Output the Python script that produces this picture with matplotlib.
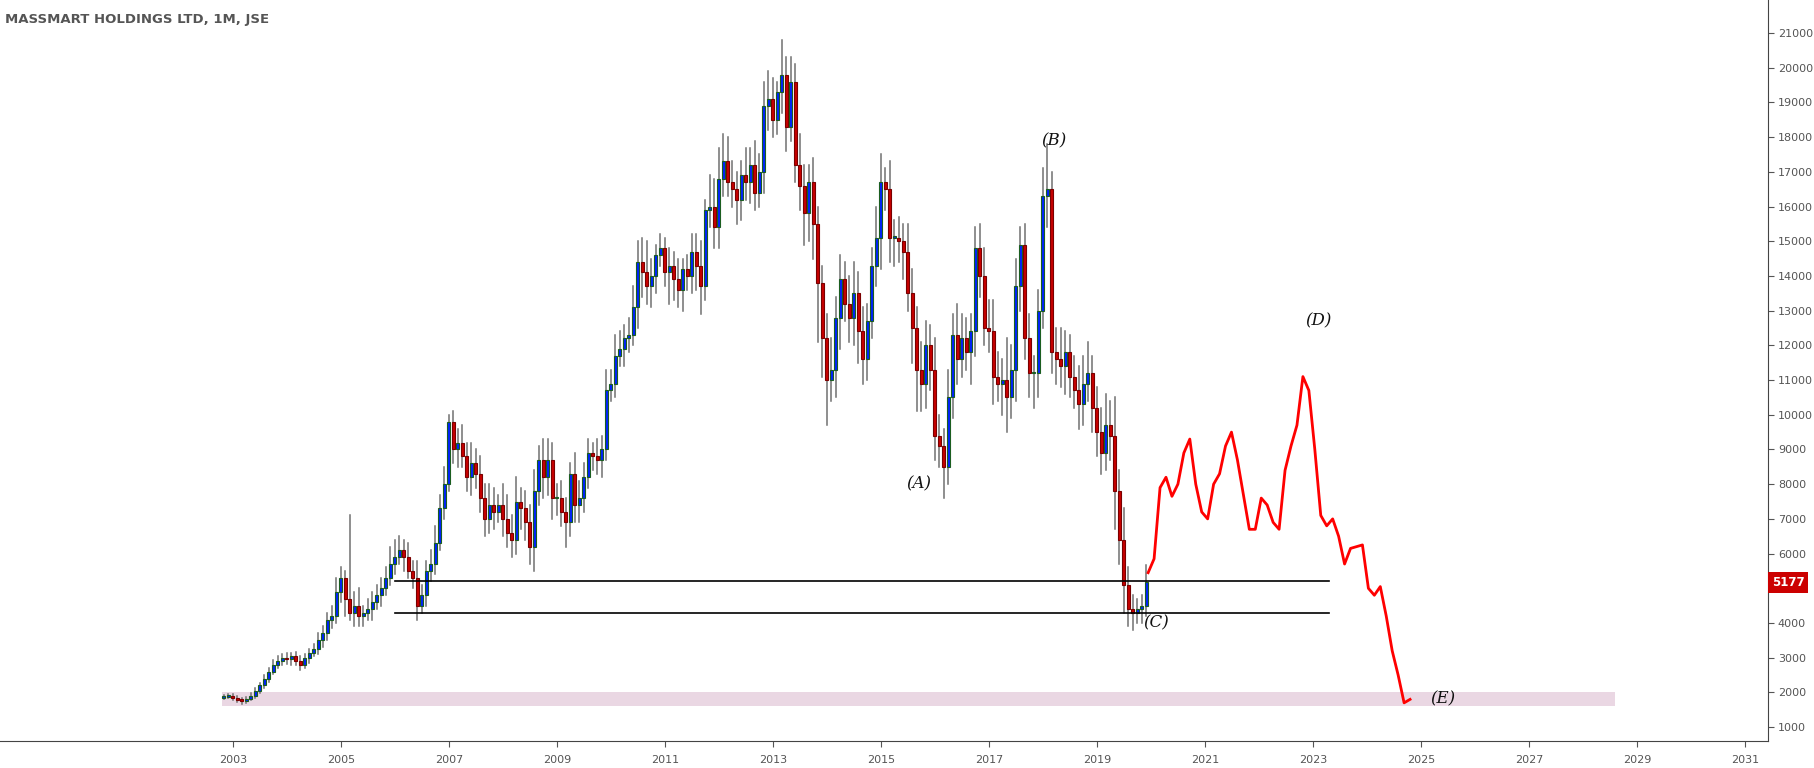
import numpy as np
import matplotlib
matplotlib.use('Agg')
import matplotlib.pyplot as plt
from matplotlib.patches import Rectangle

# monthly closes, Nov 2002 .. Dec 2019
closes = [
    1880, 1900,
    1850, 1780, 1760, 1820, 1900, 2050, 2200, 2400, 2600, 2800, 2900, 3000,
    2950, 3050, 2900, 2800, 3000, 3150, 3250, 3500, 3700, 4100, 4200, 4900,
    5300, 4700, 4300, 4500, 4200, 4300, 4400, 4600, 4800, 5000, 5300, 5700,
    5900, 6100, 5900, 5500, 5300, 4500, 4800, 5500, 5700, 6300, 7300, 8000,
    9800, 9000, 9200, 8800, 8200, 8600, 8300, 7600, 7000, 7400, 7200, 7400,
    7000, 6600, 6400, 7500, 7300, 6900, 6200, 7800, 8700, 8200, 8700, 7600,
    7600, 7200, 6900, 8300, 7400, 7600, 8200, 8900, 8800, 8700, 9000, 10700,
    10900, 11700, 11900, 12200, 12300, 13100, 14400, 14100, 13700, 14000, 14600, 14800,
    14100, 14300, 13900, 13600, 14200, 14000, 14700, 14300, 13700, 15900, 16000, 15400,
    16800, 17300, 16700, 16500, 16200, 16900, 16700, 17200, 16400, 17000, 18900, 19100,
    18500, 19300, 19800, 18300, 19600, 17200, 16600, 15800, 16700, 15500, 13800, 12200,
    11000, 11300, 12800, 13900, 13200, 12800, 13500, 12400, 11600, 12700, 14300, 15100,
    16700, 16500, 15100, 15100, 15000, 14700, 13500, 12500, 11300, 10900, 12000, 11300,
    9400, 9100, 8500, 10500, 12300, 11600, 12200, 11800, 12400, 14800, 14000, 12500,
    12400, 11100, 10900, 11000, 10500, 11300, 13700, 14900, 12200, 11200, 11200, 13000,
    16300, 16500, 11800, 11600, 11400, 11800, 11100, 10700, 10300, 10900, 11200, 10200,
    9500, 8900, 9700, 9400, 7800, 6400, 5100, 4400, 4300, 4400, 4500, 5177,
]
# wick extension above max(open, close) and below min(open, close)
wick_up = [
    50, 50,
    60, 50, 50, 60, 80, 90, 80, 100, 100, 120, 150, 100,
    150, 100, 120, 150, 100, 100, 150, 200, 200, 200, 300, 400,
    300, 200, 2400, 400, 500, 200, 300, 300, 300, 300, 300, 500,
    500, 400, 300, 400, 300, 500, 300, 300, 400, 500, 400, 500,
    200, 300, 400, 500, 400, 600, 400, 500, 400, 600, 500, 300,
    600, 700, 500, 700, 400, 500, 500, 600, 400, 600, 600, 500,
    400, 500, 400, 300, 600, 500, 400, 400, 300, 500, 400, 600,
    400, 600, 500, 400, 500, 600, 600, 700, 900, 500, 300, 400,
    300, 500, 400, 600, 300, 400, 500, 500, 700, 300, 900, 800,
    900, 800, 700, 600, 500, 400, 800, 500, 700, 500, 700, 800,
    600, 300, 1000, 500, 700, 500, 900, 600, 500, 700, 500, 500,
    700, 900, 600, 700, 500, 800, 900, 600, 700, 500, 500, 900,
    800, 400, 800, 500, 600, 500, 800, 700, 600, 800, 700, 600,
    900, 600, 500, 800, 600, 900, 700, 600, 500, 600, 700, 800,
    800, 900, 700, 600, 1200, 700, 800, 500, 600, 700, 500, 600,
    800, 1300, 500, 700, 900, 600, 500, 600, 700, 800, 900, 500,
    600, 700, 900, 700, 1100, 600, 900, 500, 400, 300, 300, 500,
]
wick_dn = [
    50, 50,
    60, 50, 80, 60, 50, 60, 80, 60, 100, 80, 100, 100,
    120, 150, 100, 150, 100, 150, 100, 150, 200, 200, 250, 200,
    300, 500, 200, 400, 300, 300, 200, 300, 200, 300, 200, 200,
    300, 200, 400, 200, 300, 400, 200, 300, 300, 300, 200, 300,
    200, 400, 500, 300, 400, 500, 400, 400, 500, 400, 500, 300,
    500, 400, 500, 400, 600, 500, 500, 700, 400, 600, 500, 600,
    500, 400, 700, 400, 500, 500, 400, 300, 400, 400, 500, 300,
    300, 400, 300, 500, 400, 300, 600, 700, 500, 600, 500, 300,
    400, 900, 600, 500, 600, 400, 500, 700, 800, 400, 500, 600,
    600, 500, 400, 500, 700, 600, 500, 600, 500, 400, 600, 700,
    500, 400, 600, 700, 400, 500, 700, 900, 800, 1000, 1700, 1100,
    1300, 600, 800, 900, 500, 700, 800, 900, 700, 600, 500, 600,
    900, 600, 700, 800, 600, 800, 500, 1000, 1200, 800, 700, 600,
    700, 600, 900, 500, 600, 700, 500, 500, 900, 700, 600, 500,
    600, 800, 500, 900, 1000, 600, 900, 700, 600, 700, 1000, 700,
    500, 900, 600, 700, 600, 800, 600, 500, 700, 600, 500, 700,
    700, 600, 500, 700, 1100, 700, 800, 500, 500, 300, 400, 300,
]
start_year = 2002 + 10 / 12

# red forecast path (monthly from 2020)
proj_start = 2019.95
proj = [5450, 5850, 7900, 8200, 7650, 8000, 8900, 9300, 8000, 7200, 7000, 8000, 8300,
        9100, 9500, 8700, 7700, 6700, 6700, 7600, 7400, 6900, 6700, 8400, 9100, 9700,
        11100, 10700, 9000, 7100, 6800, 7000, 6500, 5700, 6150, 6200, 6250, 5000, 4800,
        5050, 4200, 3200, 2500, 1700, 1800]
proj_end = 2024.8

support = [5200, 4300]
support_x = (2006.0, 2023.3)
zone = (1600, 2000)
zone_x = (2002.8, 2028.6)

labels = [("(A)", 2015.7, 8000), ("(B)", 2018.2, 17900), ("(C)", 2020.1, 4000),
          ("(D)", 2023.1, 12700), ("(E)", 2025.4, 1800)]
last_price = 5177

fig = plt.figure(figsize=(18.14, 7.68), dpi=100)
ax = fig.add_axes([0.0, 0.035, 0.9747, 0.965])

ax.add_patch(Rectangle((zone_x[0], zone[0]), zone_x[1] - zone_x[0], zone[1] - zone[0],
                       facecolor='#ead7e3', edgecolor='none', zorder=0))

w = 0.06
prev = closes[0]
for i, c in enumerate(closes):
    o = prev if i > 0 else c - 30
    t = start_year + i / 12
    hi = max(o, c) + wick_up[i]
    lo = min(o, c) - wick_dn[i]
    ax.plot([t, t], [lo, hi], color='#707070', lw=1.1, zorder=1)
    up = c >= o
    ax.add_patch(Rectangle((t - w / 2, min(o, c)), w, max(abs(c - o), 40),
                           facecolor='#0022ff' if up else '#c80000',
                           edgecolor='#1b5e20' if up else '#7a0000', lw=0.8, zorder=2))
    prev = c

px = np.linspace(proj_start, proj_end, len(proj))
ax.plot(px, proj, color='#ff0000', lw=2, zorder=3)

for s in support:
    ax.plot(support_x, [s, s], color='black', lw=1.2, zorder=3)

for txt, x, y in labels:
    ax.text(x, y, txt, fontsize=12, style='italic', family='DejaVu Serif',
            ha='center', va='center', color='#111111')

ax.set_xlim(1998.69, 2031.43)
ax.set_ylim(597, 21951)
ax.set_xticks(range(2003, 2032, 2))
ax.set_yticks(range(1000, 21001, 1000))
ax.yaxis.tick_right()
ax.tick_params(colors='#555555', labelsize=8, length=4, pad=3)
ax.tick_params(axis='x', pad=6)
for side in ['top', 'left']:
    ax.spines[side].set_visible(False)
ax.spines['right'].set_color('#444444')
ax.spines['bottom'].set_color('#444444')

ax.text(1.002, last_price, f'{last_price}', transform=ax.get_yaxis_transform(),
        ha='left', va='center', fontsize=8.5, fontweight='bold', color='white',
        bbox=dict(boxstyle='square,pad=0.35', facecolor='#cc0000', edgecolor='none'),
        clip_on=False, zorder=5)

fig.text(0.003, 0.975, 'MASSMART HOLDINGS LTD, 1M, JSE', fontsize=9.5,
         fontweight='bold', color='#555555', va='center')

fig.savefig('out.png', dpi=100)
